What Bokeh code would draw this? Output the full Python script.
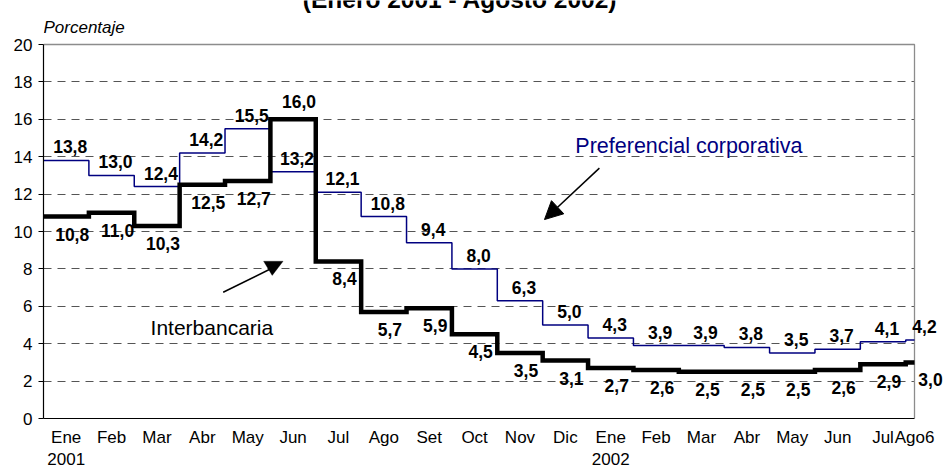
from bokeh.plotting import figure
from bokeh.models import (ColumnDataSource, FixedTicker, LabelSet, Label, Arrow,
                          NormalHead, Range1d, PolyAnnotation, BoxAnnotation)
from bokeh.core.properties import value
from bokeh.embed import file_html
from bokeh.resources import INLINE

# ---------------- data ----------------
months = ["Ene", "Feb", "Mar", "Abr", "May", "Jun", "Jul", "Ago", "Set", "Oct",
          "Nov", "Dic", "Ene", "Feb", "Mar", "Abr", "May", "Jun", "Jul", "Ago6"]
years = ["2001", "2002"]
preferencial = [13.8, 13.0, 12.4, 14.2, 15.5, 13.2, 12.1, 10.8, 9.4, 8.0,
                6.3, 5.0, 4.3, 3.9, 3.9, 3.8, 3.5, 3.7, 4.1, 4.2]
interbancaria = [10.8, 11.0, 10.3, 12.5, 12.7, 16.0, 8.4, 5.7, 5.9, 4.5,
                 3.5, 3.1, 2.7, 2.6, 2.5, 2.5, 2.5, 2.6, 2.9, 3.0]
y_ticks = [0, 2, 4, 6, 8, 10, 12, 14, 16, 18, 20]
last_month_days = 6      # "Ago6": 1-6 de agosto
last_month_length = 31

FONT = "Liberation Sans"
NAVY = "#000080"
BORDER = "#8c8c8c"

# ---------------- layout ----------------
W, H = 943, 472
LEFT, BOTTOM = 43, 54
AXIS_W, AXIS_H = 871, 374          # pixel size of the 0..x_end / 0..20 box
FRAME_W, FRAME_H = W - LEFT, H - BOTTOM

n = len(months)
x_end = (n - 1) + last_month_days / last_month_length
y_top = y_ticks[-1]
x_max = x_end * FRAME_W / AXIS_W
y_max = y_top * FRAME_H / AXIS_H

edges = list(range(n)) + [x_end]
label_x = [i + 0.5 for i in range(n - 1)] + [x_end]

p = figure(width=W, height=H, x_range=Range1d(0, x_max), y_range=Range1d(0, y_max),
           output_backend="svg", toolbar_location=None,
           min_border_left=LEFT, min_border_right=0, min_border_top=0,
           min_border_bottom=BOTTOM)
p.background_fill_color = "white"
p.border_fill_color = "white"
p.outline_line_color = None

# ---------------- axes ----------------
ene_idx = [i for i, m in enumerate(months) if m == "Ene"]
tick_text = list(months)
for yr, i in zip(years, ene_idx):
    tick_text[i] = f"{months[i]}\n{yr}"

p.xaxis.ticker = FixedTicker(ticks=label_x)
p.xaxis.major_label_overrides = {x: t for x, t in zip(label_x, tick_text)}
p.xaxis.bounds = (0, x_end)
p.xaxis.major_tick_out = 0
p.xaxis.major_tick_in = 0
p.xaxis.minor_tick_out = 0
p.xaxis.minor_tick_in = 0
p.xaxis.major_label_standoff = 9
p.xaxis.major_label_text_line_height = 1.18
p.yaxis.ticker = FixedTicker(ticks=y_ticks)
p.yaxis.bounds = (0, y_top)
p.yaxis.major_tick_out = 5
p.yaxis.major_tick_in = 0
p.yaxis.minor_tick_out = 0
p.yaxis.minor_tick_in = 0
p.yaxis.major_label_standoff = 6
for ax in (p.xaxis, p.yaxis):
    ax.axis_line_color = "black"
    ax.axis_line_width = 1.2
    ax.major_tick_line_color = "black"
    ax.major_label_text_font = FONT
    ax.major_label_text_font_size = "17px"
    ax.major_label_text_color = "black"

p.xgrid.visible = False
p.ygrid.ticker = FixedTicker(ticks=y_ticks[1:-1])
p.ygrid.grid_line_color = "#555555"
p.ygrid.grid_line_dash = "8 6"
p.ygrid.grid_line_width = 1
# blank the area to the right of the chart box
p.add_layout(BoxAnnotation(left=x_end, fill_color="white", fill_alpha=1.0,
                           line_color=None, level="underlay"))

# top / right border of the chart box
p.line([0, x_end, x_end], [y_top, y_top, 0], line_color=BORDER, line_width=1.3)

# ---------------- step lines ----------------
p.step(edges, preferencial + [preferencial[-1]], mode="after",
       line_color=NAVY, line_width=1.5)
p.step(edges, interbancaria + [interbancaria[-1]], mode="after",
       line_color="black", line_width=4.5, line_join="miter")

# ---------------- data labels ----------------
fmt = lambda v: f"{v:.1f}".replace(".", ",")
pref_xo = [4] * (n - 1) + [10]
src_pref = ColumnDataSource(dict(x=label_x, y=preferencial, xo=pref_xo,
                                 t=[fmt(v) for v in preferencial]))
p.add_layout(LabelSet(source=src_pref, x="x", y="y", text="t", x_offset="xo", y_offset=7,
                      text_align="center", text_baseline="alphabetic",
                      text_font=value(FONT), text_font_size=value("17.5px"),
                      text_font_style="bold", text_color="black"))
inter_off = [11 if a > b else -24 for a, b in zip(interbancaria, preferencial)]
inter_xo = [6] * (n - 1) + [16]
src_inter = ColumnDataSource(dict(x=label_x, y=interbancaria, xo=inter_xo,
                                  t=[fmt(v) for v in interbancaria], yo=inter_off))
p.add_layout(LabelSet(source=src_inter, x="x", y="y", text="t", x_offset="xo", y_offset="yo",
                      text_align="center", text_baseline="alphabetic",
                      text_font=value(FONT), text_font_size=value("17.5px"),
                      text_font_style="bold", text_color="black"))

# ---------------- title (cut at top) and unit label ----------------
p.text(x=[9.18], y=[22.39], text=["(Enero 2001 - Agosto 2002)"], text_align="center",
       text_baseline="alphabetic", text_font=value(FONT), text_font_size="24.5px",
       text_font_style="bold", text_color="black")
p.add_layout(Label(x=0, y=20.93, text="Porcentaje", text_align="left",
                   text_baseline="alphabetic", text_font=FONT, text_font_size="17px",
                   text_font_style="italic", text_color="black"))

# ---------------- series annotations ----------------
p.add_layout(Label(x=11.72, y=14.55, text="Preferencial corporativa",
                   text_baseline="alphabetic", text_font=FONT, text_font_size="21.5px",
                   text_color=NAVY))
p.add_layout(Arrow(end=NormalHead(size=18, fill_color="black", line_color="black"),
                   x_start=12.25, y_start=13.39, x_end=11.04, y_end=10.64,
                   line_color="black", line_width=1.5))
p.add_layout(Label(x=2.36, y=4.87, text="Interbancaria",
                   text_baseline="alphabetic", text_font=FONT, text_font_size="21px",
                   text_color="black"))
p.add_layout(Arrow(end=None, x_start=3.96, y_start=6.75, x_end=5.02, y_end=8.02,
                   line_color="black", line_width=1.5))
p.add_layout(PolyAnnotation(xs=[4.85, 5.28, 5.04], ys=[8.41, 8.41, 7.65],
                            fill_color="black", fill_alpha=1.0, line_color="black"))

open("out.html", "w").write(file_html(p, INLINE))
